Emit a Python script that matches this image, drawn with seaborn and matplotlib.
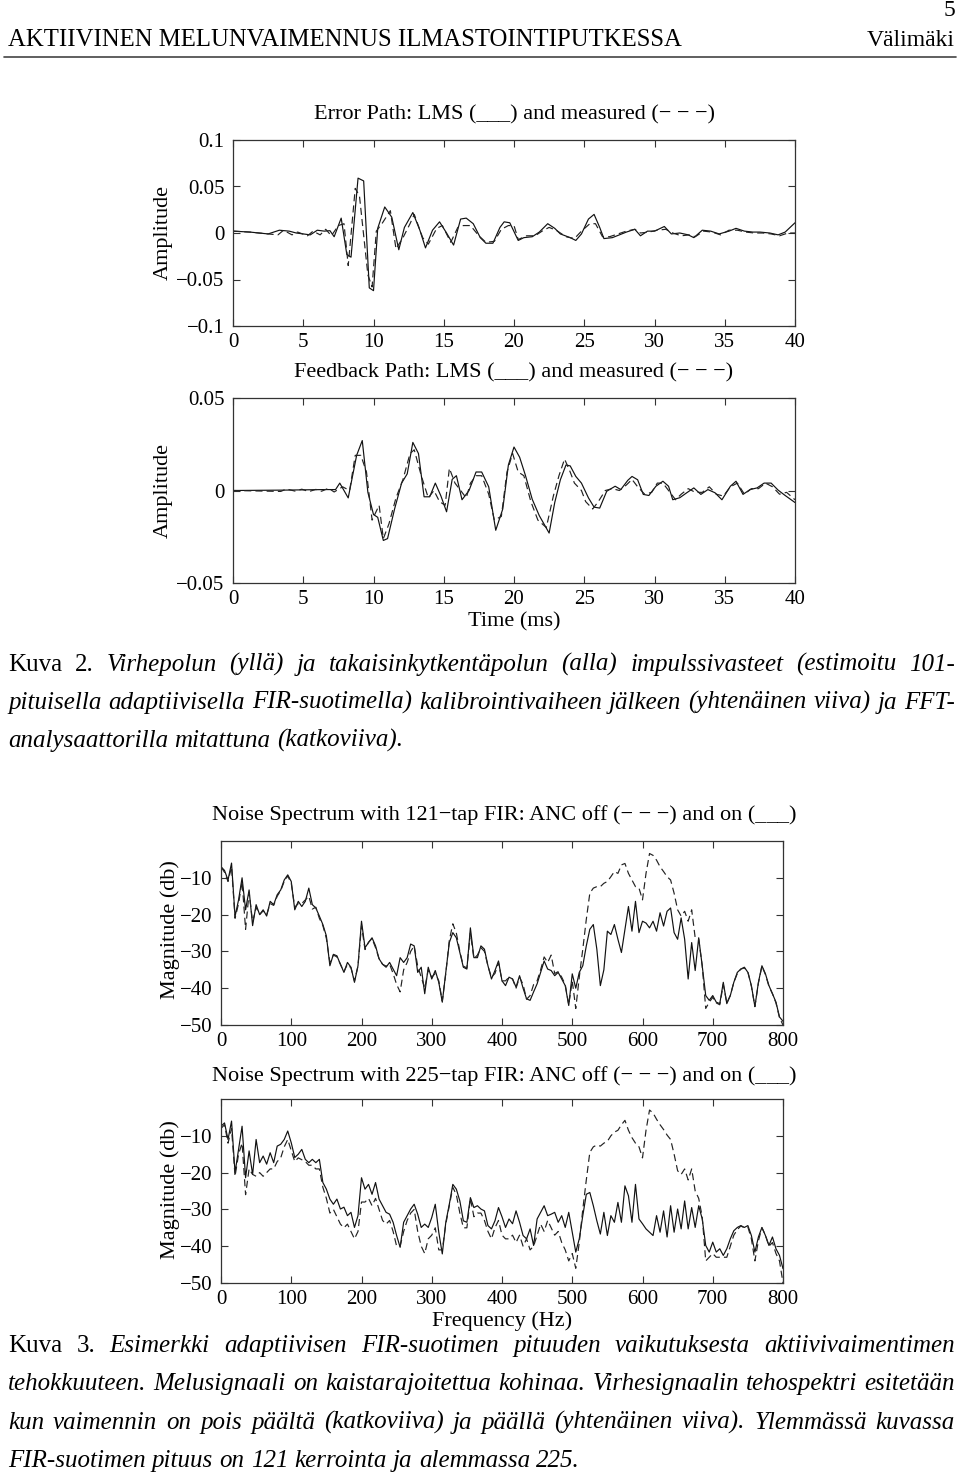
import numpy as np
import pandas as pd
import matplotlib
matplotlib.use("Agg")
import matplotlib.pyplot as plt
from matplotlib.transforms import IdentityTransform
import seaborn as sns

# ---------------- data ----------------
# Error path impulse response (time in ms, amplitude)
err_lms_t = [0.0, 1.2, 2.5, 3.3, 4.0, 4.5, 5.0, 5.5, 6.0, 6.5, 6.9, 7.2, 7.7, 8.1, 8.4, 8.9, 9.3, 9.7, 10.0,
             10.3, 10.8, 11.3, 11.8, 12.2, 12.8, 13.3, 13.7, 14.2, 14.7, 15.2, 15.7, 16.2, 16.6, 17.1, 17.6,
             18.0, 18.5, 19.0, 19.3, 19.7, 20.3, 20.7, 21.3, 21.8, 22.4, 22.9, 23.3, 24.0, 24.4, 24.8, 25.3,
             25.7, 26.1, 26.4, 27.0, 27.5, 28.0, 28.6, 29.0, 29.5, 30.0, 30.7, 31.2, 31.8, 32.4, 32.8, 33.4,
             34.0, 34.6, 35.3, 35.8, 36.4, 37.0, 37.5, 38.2, 38.8, 39.3, 40.0]
err_lms = [0.002, 0.001, -0.001, 0.003, 0.002, 0.0, -0.001, -0.002, 0.003, 0.002, 0.0025, -0.004, 0.016,
           -0.023, -0.026, 0.059, 0.056, -0.059, -0.062, 0.005, 0.028, 0.017, -0.018, 0.006, 0.022, 0.003,
           -0.016, 0.003, 0.012, 0.0, -0.013, 0.015, 0.016, 0.010, -0.005, -0.011, -0.011, 0.006, 0.012,
           0.011, -0.008, -0.005, -0.004, 0.001, 0.010, 0.005, -0.001, -0.005, -0.008, -0.001, 0.015, 0.020,
           0.006, -0.006, -0.005, -0.002, 0.001, 0.004, -0.003, 0.002, 0.002, 0.007, -0.001, 0.0, -0.002,
           -0.005, 0.003, 0.002, -0.001, 0.002, 0.005, 0.002, 0.001, 0.001, 0.0, -0.002, 0.001, 0.011]
err_meas_t = [0.0, 1.2, 2.5, 3.2, 3.6, 4.2, 4.6, 5.3, 5.7, 6.2, 6.6, 7.0, 7.5, 7.9, 8.2, 8.7, 9.0, 9.6, 9.9,
              10.2, 10.6, 11.2, 11.6, 12.1, 12.6, 12.9, 13.5, 13.9, 14.5, 14.9, 15.5, 16.0, 16.4, 16.9,
              17.5, 18.0, 18.6, 19.1, 19.6, 20.0, 20.3, 20.9, 21.5, 22.1, 22.5, 23.0, 23.7, 24.3, 24.8, 25.4,
              25.8, 26.3, 26.8, 27.4, 28.0, 28.6, 29.0, 29.6, 30.2, 30.8, 31.3, 31.9, 32.5, 32.9, 33.5, 34.1,
              34.7, 35.3, 35.9, 36.5, 37.1, 37.7, 38.3, 38.9, 39.5, 40.0]
err_meas = [0.002, 0.001, -0.001, -0.002, 0.003, -0.002, 0.001, -0.003, 0.002, -0.002, 0.004, -0.003, 0.008,
            0.010, -0.035, 0.048, 0.040, -0.045, -0.058, 0.002, 0.010, 0.024, -0.017, -0.005, 0.010, 0.020,
            -0.005, -0.012, 0.005, 0.008, -0.010, 0.006, 0.008, 0.008, -0.003, -0.010, -0.009, 0.004, 0.008,
            0.008, -0.007, -0.003, -0.003, 0.003, 0.006, 0.003, -0.004, -0.006, 0.002, 0.010, 0.010, -0.004,
            -0.004, -0.001, 0.002, 0.004, 0.0, 0.001, 0.003, 0.004, 0.0, -0.003, -0.002, -0.004, 0.002, 0.001,
            -0.002, 0.003, 0.003, 0.001, 0.0, 0.0, -0.001, -0.003, 0.0, 0.0]

# Feedback path impulse response
fb_lms_t = [0.0, 3.5, 6.5, 7.3, 7.6, 8.2, 8.8, 9.2, 9.6, 10.0, 10.3, 10.7, 11.0, 11.5, 12.0, 12.4, 12.8, 13.2,
            13.6, 14.0, 14.4, 14.8, 15.2, 15.6, 15.9, 16.3, 16.8, 17.3, 17.7, 18.2, 18.7, 19.2, 19.6, 20.0,
            20.4, 20.8, 21.3, 21.8, 22.5, 22.9, 23.3, 23.7, 24.0, 24.4, 24.8, 25.3, 25.7, 26.1, 26.6, 27.2,
            27.6, 28.1, 28.4, 28.8, 29.2, 29.6, 30.1, 30.6, 31.0, 31.3, 31.8, 32.3, 32.8, 33.3, 33.8, 34.3,
            34.8, 35.4, 35.8, 36.3, 36.8, 37.3, 37.8, 38.3, 38.8, 39.3, 40.0]
fb_lms = [0.0, 0.0002, 0.0005, 0.0005, 0.004, -0.004, 0.019, 0.027, -0.001, -0.013, -0.0145, -0.027, -0.026,
          -0.010, 0.004, 0.009, 0.026, 0.020, -0.0034, -0.0034, 0.004, -0.003, -0.0115, 0.006, 0.008, -0.005,
          0.0, 0.010, 0.010, 0.002, -0.0215, -0.010, 0.0138, 0.0235, 0.018, 0.0085, -0.0048, -0.0136, -0.023,
          -0.0065, 0.0058, 0.0138, 0.0133, 0.0076, 0.004, -0.004, -0.009, -0.0095, -0.0004, 0.0023, 0.0005,
          0.0055, 0.0076, 0.0058, -0.0021, -0.0027, 0.0023, 0.005, 0.0023, -0.005, -0.0039, -0.0012, 0.0014,
          -0.0021, 0.0005, -0.0012, -0.005, 0.0023, 0.005, -0.0021, 0.0005, 0.0014, 0.004, 0.004, 0.0002,
          -0.0027, -0.0065]
fb_meas_t = [0.0, 3.4, 3.8, 4.4, 4.9, 5.4, 5.9, 6.3, 6.8, 7.2, 7.8, 8.3, 8.7, 9.1, 9.5, 9.9, 10.4, 10.7, 11.1,
             11.6, 12.1, 12.6, 12.9, 13.4, 13.9, 14.3, 14.7, 15.1, 15.4, 15.8, 16.2, 16.6, 16.9, 17.3, 17.7,
             18.2, 18.6, 19.1, 19.5, 19.9, 20.3, 20.7, 21.2, 21.7, 22.3, 22.8, 23.2, 23.6, 24.0, 24.3, 24.8,
             25.1, 25.6, 26.0, 26.5, 27.0, 27.5, 28.0, 28.4, 28.8, 29.3, 29.8, 30.2, 30.6, 31.1, 31.5, 31.9,
             32.4, 32.9, 33.4, 33.9, 34.4, 34.9, 35.4, 35.9, 36.4, 36.9, 37.4, 37.9, 38.4, 38.9, 39.4, 40.0]
fb_meas = [0.0, -0.0005, 0.0008, -0.0003, 0.0007, -0.0006, 0.0006, -0.0004, 0.0012, -0.0008, 0.002, 0.0,
           0.019, 0.019, 0.010, -0.016, -0.008, -0.026, -0.018, -0.004, 0.006, 0.020, 0.022, 0.008, -0.004,
           0.0, -0.006, -0.008, 0.012, 0.004, 0.0, -0.004, 0.004, 0.008, 0.008, -0.002, -0.016, -0.014, 0.010,
           0.020, 0.010, 0.008, -0.006, -0.016, -0.020, -0.003, 0.008, 0.017, 0.010, 0.004, 0.0, -0.006,
           -0.010, -0.006, 0.0, 0.001, 0.0, 0.003, 0.006, 0.002, -0.002, -0.001, 0.004, 0.004, -0.001, -0.005,
           -0.002, 0.001, -0.001, -0.001, 0.002, -0.002, -0.003, 0.002, 0.004, -0.002, 0.001, 0.001, 0.004,
           0.002, -0.002, -0.001, -0.005]

# Noise spectra, 0..800 Hz every 5 Hz (dB)
freq = np.arange(0, 801, 5)
spec121_on = [
    -7, -8, -10.6, -6, -20.5, -16, -10, -18.7, -13.3, -23, -17.3, -20, -18.7, -20.4, -16.4, -17.3, -14.6, -13.3, -10.6, -9.2,
    -11, -18.7, -16.4, -17.8, -16.4, -12.8, -17.3, -18.2, -20.4, -22.7, -25.8, -33.9, -30.8, -31.2, -33.5, -35.7, -33, -34.3, -38.4, -33.9,
    -21.8, -29, -27.6, -26.3, -28.5, -32, -33.5, -34.3, -33, -34.8, -36.6, -31.7, -33, -31.7, -28, -28.5, -35.7, -34.3, -41.5, -34.3,
    -37.5, -35.2, -38.4, -43.8, -35.7, -27.6, -24.9, -26.3, -30.3, -34.3, -34.8, -23.6, -31.7, -31.7, -28.5, -29.4, -33.9, -37.5, -35.2, -32.6,
    -38, -39.3, -37, -37.5, -39.7, -36.6, -40, -42.9, -43.3, -41, -38.8, -35.7, -32.6, -34.8, -35.2, -36.6, -35.7, -37.5, -39.3, -44.7,
    -36.1, -40, -35.7, -33.9, -28.5, -24, -22.7, -29.4, -39.3, -35, -24.5, -25.4, -22.7, -26.7, -30.3, -24, -17.8, -24.5, -16.4, -24.9,
    -21.8, -22.3, -23.6, -21.8, -24.5, -19.5, -23.1, -19.1, -18.2, -24.9, -26.7, -20.9, -26.7, -37.5, -27.6, -35.2, -26.3, -33.9, -42, -43.3,
    -42, -43.8, -44.2, -38.4, -44.2, -42, -38.4, -35.7, -34.8, -34.3, -35.7, -39.3, -45, -38.4, -33.9, -36.1, -39.3, -41.5, -43.8, -47.8,
    -49]
spec121_off = [
    -7, -8.5, -11, -7, -21, -17, -11, -24, -14, -22, -18, -20, -19, -20, -17, -17.5, -15, -13.5, -11, -9.5,
    -11.5, -18, -17, -17, -16, -15, -18.5, -18, -21, -23, -26.5, -33, -31, -31.5, -33.5, -35.5, -33.5, -34.5, -38, -34,
    -23, -29.5, -27.5, -26.5, -29, -32, -33.5, -34, -33.5, -36, -39, -41, -35, -33, -30, -28.5, -34, -37, -40, -35,
    -37, -36, -38, -43.5, -36, -27, -22.5, -25, -30, -34, -34.5, -25, -32, -31, -29, -30, -34, -37, -36, -33,
    -38, -38, -37, -37.5, -40, -37, -39, -43, -42, -39, -38, -35, -31.5, -33, -31, -36, -35.5, -37, -39, -44.5,
    -38, -45.5, -37, -29.4, -21.3, -14.2, -12.8, -12.4, -12.4, -11.5, -11, -9.7, -8.3, -8.8, -6.5, -6.1, -8.8, -10.6, -12.4, -12.8,
    -16, -8.8, -3.4, -3.9, -5.2, -7, -8.3, -9.7, -10.6, -14.2, -18.7, -20.4, -19.1, -21.8, -18.7, -26.3, -26.7, -33.9, -45.5, -43.8,
    -42.5, -44, -44.5, -39, -44, -42, -38.4, -36, -34.8, -34.5, -35.5, -39.5, -45, -38.6, -34, -36.3, -39.5, -41.5, -44, -48,
    -50]
spec225_on = [
    -7.4, -6.5, -11, -6, -20, -13.7, -7.4, -21.4, -14.1, -20.5, -11, -17.3, -15.5, -17.7, -14.6, -17.3, -12.8, -12.3, -11, -8.7,
    -11.9, -15.9, -15, -13.7, -16.4, -17.3, -16.4, -17.3, -16.4, -22.7, -24.5, -27.2, -28.6, -27.2, -29.9, -29.4, -31.7, -30.8, -34.9, -31.7,
    -21.4, -24.5, -23.2, -25.9, -22.7, -27.2, -29, -30.8, -31.3, -33.5, -37.1, -40.3, -33.5, -31.7, -29.9, -28.6, -31.3, -34.9, -34, -34.9,
    -32.2, -28.6, -36.2, -42.1, -33.5, -28.6, -23.2, -24.5, -27.7, -33.1, -33.5, -26.8, -29.5, -29, -29.9, -30.4, -34.4, -35.3, -33.1, -29.5,
    -32, -34.9, -32.6, -33.9, -30.4, -33.5, -37.1, -38, -35.3, -39.8, -32.6, -30.8, -29, -31.7, -31.3, -30.8, -33.5, -31.7, -34.9, -30.8,
    -36.2, -41.6, -38, -31.7, -25.9, -25.4, -29, -33.1, -36.7, -30.8, -37.1, -31.7, -33.5, -28.1, -33.5, -23.6, -26.3, -33.5, -23.2, -32.6,
    -33.9, -35.3, -36.2, -37.1, -31.7, -36.2, -30.4, -37.5, -29, -36.2, -29.9, -35.3, -27.7, -35.3, -29.5, -34.9, -29, -32.6, -39.8, -41.6,
    -38.9, -41.6, -40.7, -42.5, -40.7, -38, -35.8, -34.9, -34.4, -34.9, -34.4, -37.1, -41.6, -37.5, -34.9, -37.1, -39.8, -37.5, -40.7, -42.5,
    -46.1]
spec225_off = [
    -8, -7, -12, -8, -21, -15, -12, -26, -19, -20.5, -21, -20, -21, -20, -19, -19, -17, -16, -13, -11,
    -14, -17, -16, -16.5, -17, -18, -18, -19, -19, -24, -27, -31, -30, -32, -34, -35, -34, -36, -38, -36,
    -28, -28, -27, -29, -27, -30, -33, -34, -33, -36, -40, -40, -36, -33, -31, -30, -36, -40, -42, -38,
    -37, -35, -41, -41, -34, -29, -24, -26, -31, -35, -35, -27, -32, -31, -31, -33, -36, -38, -35, -33,
    -37, -38, -38, -37, -39, -37, -40, -38, -41, -40, -37, -34, -36, -33, -35, -37, -36, -39, -41, -44,
    -42, -46, -39, -30, -22, -14.5, -13, -12.5, -12.8, -12, -11.5, -10, -9, -8.5, -7, -5.8, -8.5, -10.5, -12, -13,
    -16, -8.5, -3, -3.8, -5.5, -7, -8.3, -9.8, -11, -15, -19.5, -20.5, -19, -22, -19, -25, -27, -32, -44, -43,
    -42, -43, -43, -43, -43, -40, -37, -35.5, -34.5, -35, -34.8, -38, -44, -38.5, -35, -37, -40, -39, -42, -44,
    -50]

# ---------------- style ----------------
sns.set_theme(style="ticks")
plt.rcParams['font.family'] = ['Liberation Serif', 'DejaVu Serif']
plt.rcParams.update({
    'xtick.direction': 'in', 'ytick.direction': 'in',
    'xtick.top': True, 'ytick.right': True,
    'xtick.bottom': True, 'ytick.left': True,
    'axes.edgecolor': '#333333', 'axes.linewidth': 0.9,
    'xtick.major.size': 5, 'ytick.major.size': 5,
    'xtick.major.width': 0.8, 'ytick.major.width': 0.8,
    'xtick.color': '#333333', 'ytick.color': '#333333',
    'xtick.labelcolor': 'black', 'ytick.labelcolor': 'black',
    'xtick.labelsize': 15, 'ytick.labelsize': 15,
    'xtick.major.pad': 5, 'ytick.major.pad': 6,
    'axes.facecolor': 'white', 'figure.facecolor': 'white',
})

W, H = 960, 1480
fig = plt.figure(figsize=(W / 100, H / 100), dpi=100)
PX = IdentityTransform()


def add_axes_px(left, top, right, bottom):
    return fig.add_axes([left / W, 1 - bottom / H, (right - left) / W, (bottom - top) / H])


def ftext(x, y, s, **kw):
    kw.setdefault('va', 'center')
    kw.setdefault('color', 'black')
    return fig.text(x, H - y, s, transform=PX, **kw)


LINE = dict(color='#111111', linewidth=0.85)
DASH = dict(color='#222222', linewidth=0.85)


def draw_pair(ax, x1, y1, x2, y2):
    sns.lineplot(x=x1, y=y1, ax=ax, estimator=None, sort=False, **LINE)
    sns.lineplot(x=x2, y=y2, ax=ax, estimator=None, sort=False, **DASH)
    ax.lines[-1].set_dashes((6, 3.5))
    ax.set_xlabel('')
    ax.set_ylabel('')


# ---- impulse responses ----
ax1 = add_axes_px(233, 140, 795, 326)
draw_pair(ax1, err_lms_t, err_lms, err_meas_t, err_meas)
ax1.set_xlim(0, 40)
ax1.set_ylim(-0.1, 0.1)
ax1.set_xticks(range(0, 41, 5))
ax1.set_yticks([-0.1, -0.05, 0, 0.05, 0.1])
ax1.set_yticklabels(['\u22120.1', '\u22120.05', '0', '0.05', '0.1'])

ax2 = add_axes_px(233, 398, 795, 583)
draw_pair(ax2, fb_lms_t, fb_lms, fb_meas_t, fb_meas)
ax2.set_xlim(0, 40)
ax2.set_ylim(-0.05, 0.05)
ax2.set_xticks(range(0, 41, 5))
ax2.set_yticks([-0.05, 0, 0.05])
ax2.set_yticklabels(['\u22120.05', '0', '0.05'])

# ---- spectra ----
ax3 = add_axes_px(221, 841, 783, 1025)
draw_pair(ax3, freq, spec121_on, freq, spec121_off)
ax4 = add_axes_px(221, 1099, 783, 1283)
draw_pair(ax4, freq, spec225_on, freq, spec225_off)
for ax in (ax3, ax4):
    ax.set_xlim(0, 800)
    ax.set_ylim(-50, 0)
    ax.set_xticks(range(0, 801, 100))
    ax.set_yticks([-50, -40, -30, -20, -10])
    ax.set_yticklabels(['\u221250', '\u221240', '\u221230', '\u221220', '\u221210'])

for ax in (ax1, ax2, ax3, ax4):
    for s in ax.spines.values():
        s.set_visible(True)
    ax.tick_params(which='both', top=True, right=True, labeltop=False, labelright=False)

# ---- axis titles / labels ----
FS = 16
ftext(514, 115, 'Error Path: LMS (___) and measured (\u2212 \u2212 \u2212)', ha='center', fontsize=FS)
ftext(514, 373, 'Feedback Path: LMS (___) and measured (\u2212 \u2212 \u2212)', ha='center', fontsize=FS)
ftext(514, 622, 'Time (ms)', ha='center', fontsize=FS)
ftext(163, 232, 'Amplitude', ha='center', rotation=90, fontsize=FS)
ftext(163, 491, 'Amplitude', ha='center', rotation=90, fontsize=FS)
ftext(504, 815, 'Noise Spectrum with 121\u2212tap FIR: ANC off (\u2212 \u2212 \u2212) and on (___)', ha='center', fontsize=FS)
ftext(504, 1076, 'Noise Spectrum with 225\u2212tap FIR: ANC off (\u2212 \u2212 \u2212) and on (___)', ha='center', fontsize=FS)
ftext(502, 1321, 'Frequency (Hz)', ha='center', fontsize=FS)
ftext(170, 930, 'Magnitude (db)', ha='center', rotation=90, fontsize=FS)
ftext(170, 1190, 'Magnitude (db)', ha='center', rotation=90, fontsize=FS)

# ---- page header ----
ftext(8, 40, 'AKTIIVINEN MELUNVAIMENNUS ILMASTOINTIPUTKESSA', ha='left', fontsize=17.8)
ftext(955, 40, 'V\u00e4lim\u00e4ki', ha='right', fontsize=17)
ftext(955, 11, '5', ha='right', fontsize=17)
fig.add_artist(plt.Line2D([0.004, 0.996], [1 - 57 / H, 1 - 57 / H], color='#444444', linewidth=1.2,
                          transform=fig.transFigure))

# ---- justified captions ----
renderer = fig.canvas.get_renderer()
CFS = 18


def caption_line(runs, y, x0=8, x1=955, justify=True):
    items = []
    for text, style in runs:
        for w in text.split(' '):
            if w:
                items.append((w, style))
    yb = y + 6
    objs = []
    widths = []
    for w, st in items:
        t = ftext(0, yb, w, ha='left', va='baseline', fontsize=CFS, style=st)
        objs.append(t)
        widths.append(t.get_window_extent(renderer=renderer).width)
    probe = ftext(0, yb, 'a a', fontsize=CFS, style='italic')
    probe2 = ftext(0, yb, 'aa', fontsize=CFS, style='italic')
    sp = probe.get_window_extent(renderer=renderer).width - probe2.get_window_extent(renderer=renderer).width
    probe.remove()
    probe2.remove()
    if justify and len(objs) > 1:
        gap = (x1 - x0 - sum(widths)) / (len(objs) - 1)
    else:
        gap = sp
    x = x0
    for t, w in zip(objs, widths):
        t.set_x(x)
        x += w + gap


caption_line([('Kuva 2.', 'normal'),
              ('Virhepolun (yll\u00e4) ja takaisinkytkent\u00e4polun (alla) impulssivasteet (estimoitu 101-', 'italic')], 665)
caption_line([('pituisella adaptiivisella FIR-suotimella) kalibrointivaiheen j\u00e4lkeen (yhten\u00e4inen viiva) ja FFT-', 'italic')], 703)
caption_line([('analysaattorilla mitattuna (katkoviiva).', 'italic')], 741, justify=False)

caption_line([('Kuva 3.', 'normal'),
              ('Esimerkki adaptiivisen FIR-suotimen pituuden vaikutuksesta aktiivivaimentimen', 'italic')], 1346)
caption_line([('tehokkuuteen. Melusignaali on kaistarajoitettua kohinaa. Virhesignaalin tehospektri esitet\u00e4\u00e4n', 'italic')], 1384)
caption_line([('kun vaimennin on pois p\u00e4\u00e4lt\u00e4 (katkoviiva) ja p\u00e4\u00e4ll\u00e4 (yhten\u00e4inen viiva). Ylemm\u00e4ss\u00e4 kuvassa', 'italic')], 1423)
caption_line([('FIR-suotimen pituus on 121 kerrointa ja alemmassa 225.', 'italic')], 1461, justify=False)

fig.savefig('out.png', dpi=100)
